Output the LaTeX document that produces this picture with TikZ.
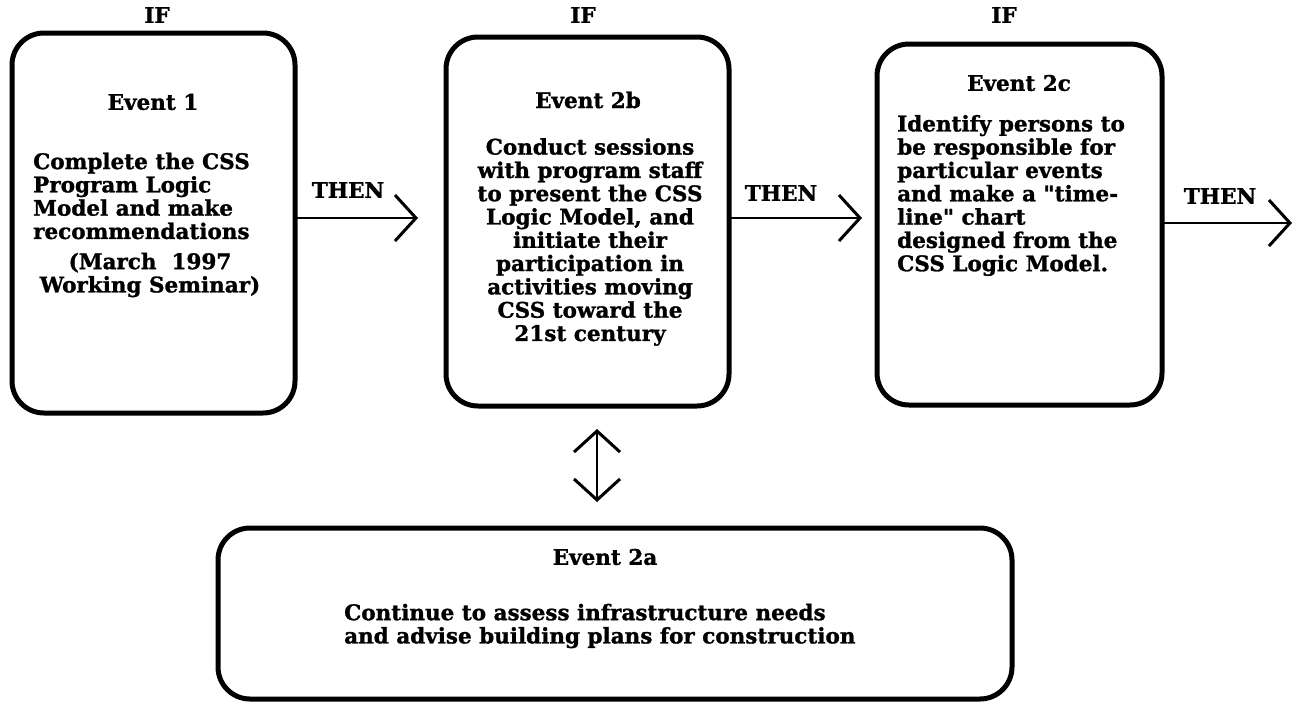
\documentclass[tikz,border=0pt]{standalone}
\usepackage{fontspec}
\setmainfont{DejaVu Serif}[Ligatures=TeXOff, BoldFeatures={FakeBold=1.2}]
\usetikzlibrary{arrows.meta}

\tikzset{
  eventbox/.style={draw, line width=5pt, rounded corners=32pt, inner sep=0pt, outer sep=0pt},
  txt/.style={inner sep=0pt, font=\fontsize{21.5}{23.3}\selectfont\bfseries},
  flow/.style={line width=2pt, -{Straight Barb[length=21pt,width=46pt,line width=3pt]}},
  twoway/.style={line width=2pt, {Straight Barb[length=21pt,width=46pt,line width=3pt]}-{Straight Barb[length=21pt,width=46pt,line width=3pt]}}
}

\begin{document}
\begin{tikzpicture}[x=1pt,y=-1pt]
  \useasboundingbox[fill=white] (0,0) rectangle (1300,704);

  % the four event boxes
  \node[eventbox, minimum width=283pt, minimum height=380pt] (e1)  at (153.5,223) {};
  \node[eventbox, minimum width=283pt, minimum height=369pt] (e2b) at (587.5,221.5) {};
  \node[eventbox, minimum width=285pt, minimum height=361pt] (e2c) at (1019.5,224.5) {};
  \node[eventbox, minimum width=794pt, minimum height=171pt] (e2a) at (615,613.5) {};

  % IF headings
  \node[txt] (if1) at (157,15) {IF};
  \node[txt] (if2) at (583,15) {IF};
  \node[txt] (if3) at (1004,15) {IF};

  % Event 1
  \node[txt] (t1) at (153,102) {Event 1};
  \node[txt, anchor=west, align=left] (b1) at (33,196)
    {Complete the CSS\\Program Logic\\Model and make\\recommendations};
  \node[txt, align=center] (d1) at (150,275) {(March\ \ 1997\\Working Seminar)};

  % Event 2b
  \node[txt] (t2b) at (588,100) {Event 2b};
  \node[txt, align=center] (b2b) at (590,242)
    {Conduct sessions\\with program staff\\to present the CSS\\Logic Model, and\\initiate their\\participation in\\activities moving\\CSS toward the\\21st century};

  % Event 2c
  \node[txt] (t2c) at (1019,83) {Event 2c};
  \node[txt, anchor=west, align=left] (b2c) at (897,195.5)
    {Identify persons to\\be responsible for\\particular events\\and make a "time-\\line" chart\\designed from the\\CSS Logic Model.};

  % Event 2a
  \node[txt] (t2a) at (605,557) {Event 2a};
  \node[txt, anchor=west, align=left] (b2a) at (344,626)
    {Continue to assess infrastructure needs\\and advise building plans for construction};

  % THEN connectors
  \coordinate (p1) at (418,218);
  \coordinate (p2) at (862,218);
  \coordinate (p3) at (1292,223);
  \draw[flow] (e1.east |- p1) -- (p1);
  \draw[flow] (e2b.east |- p2) -- (p2);
  \draw[flow] (e2c.east |- p3) -- (p3);
  \node[txt] (th1) at (348,190) {THEN};
  \node[txt] (th2) at (781,193) {THEN};
  \node[txt] (th3) at (1220,196) {THEN};

  % link between Event 2b and Event 2a
  \coordinate (v1) at (597,429);
  \coordinate (v2) at (597,502);
  \draw[twoway] (v1) -- (v2);
\end{tikzpicture}
\end{document}
